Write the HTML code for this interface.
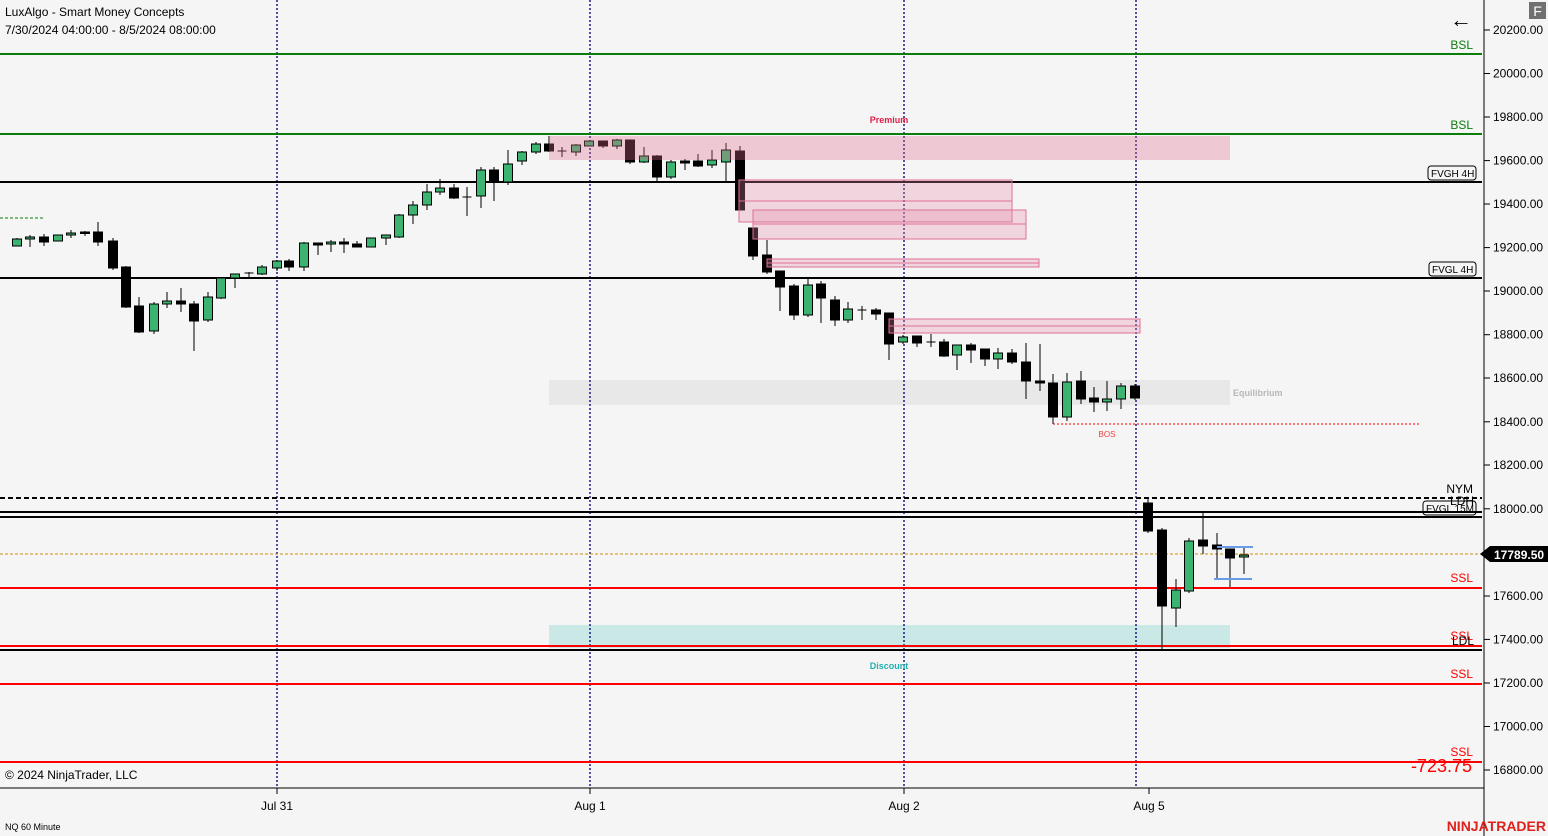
<!DOCTYPE html>
<html><head><meta charset="utf-8"><style>
html,body{margin:0;padding:0;background:#f5f5f5;}
svg{display:block;font-family:"Liberation Sans",sans-serif;}
</style></head><body>
<svg width="1548" height="836" viewBox="0 0 1548 836" xmlns="http://www.w3.org/2000/svg">
<rect width="1548" height="836" fill="#f5f5f5"/>
<!-- zones -->
<rect x="549" y="380" width="681" height="25" fill="#e8e8e8"/>
<rect x="549" y="625" width="681" height="23" fill="#c9e8e6"/>
<!-- vertical dotted lines -->
<g stroke="#1a1a80" stroke-width="1.5" stroke-dasharray="2,2">
<line x1="277" y1="0" x2="277" y2="788"/><line x1="590" y1="0" x2="590" y2="788"/>
<line x1="904" y1="0" x2="904" y2="788"/><line x1="1136" y1="0" x2="1136" y2="788"/>
</g>
<!-- horizontal levels -->
<g stroke-width="2">
<line x1="0" y1="54" x2="1482" y2="54" stroke="#0a7d0a"/>
<line x1="0" y1="134" x2="1482" y2="134" stroke="#0a7d0a"/>
<line x1="0" y1="182" x2="1482" y2="182" stroke="#000"/>
<line x1="0" y1="278" x2="1482" y2="278" stroke="#000"/>
<line x1="0" y1="498" x2="1482" y2="498" stroke="#000" stroke-dasharray="5,3"/>
<line x1="0" y1="512" x2="1482" y2="512" stroke="#000"/>
<line x1="0" y1="517" x2="1482" y2="517" stroke="#000"/>
<line x1="0" y1="588" x2="1482" y2="588" stroke="#f00"/>
<line x1="0" y1="646" x2="1482" y2="646" stroke="#f00"/>
<line x1="0" y1="650" x2="1482" y2="650" stroke="#000"/>
<line x1="0" y1="684" x2="1482" y2="684" stroke="#f00"/>
<line x1="0" y1="762" x2="1482" y2="762" stroke="#f00"/>
</g>
<line x1="0" y1="218" x2="44" y2="218" stroke="#0a7d0a" stroke-dasharray="3,2"/>
<line x1="0" y1="554" x2="1482" y2="554" stroke="#c8900a" stroke-dasharray="3,2"/>
<line x1="1053" y1="424" x2="1420" y2="424" stroke="#f00" stroke-dasharray="2,2"/>
<!-- candles -->
<g stroke="#000" stroke-width="1">
<line x1="17" y1="238" x2="17" y2="246"/><rect x="12.5" y="239" width="9" height="7" fill="#3cb371"/>
<line x1="30" y1="235" x2="30" y2="247"/><rect x="25.5" y="237" width="9" height="2" fill="#3cb371"/>
<line x1="44" y1="234" x2="44" y2="246"/><rect x="39.5" y="237" width="9" height="5" fill="#000"/>
<line x1="58" y1="235" x2="58" y2="241"/><rect x="53.5" y="235" width="9" height="6" fill="#3cb371"/>
<line x1="71" y1="230" x2="71" y2="238"/><rect x="66.5" y="233" width="9" height="2" fill="#3cb371"/>
<line x1="85" y1="231" x2="85" y2="236"/><rect x="80.5" y="232" width="9" height="1.5" fill="#000"/>
<line x1="98" y1="222" x2="98" y2="246"/><rect x="93.5" y="232" width="9" height="10" fill="#000"/>
<line x1="113" y1="238" x2="113" y2="270"/><rect x="108.5" y="241" width="9" height="27" fill="#000"/>
<line x1="126" y1="266" x2="126" y2="308"/><rect x="121.5" y="267" width="9" height="40" fill="#000"/>
<line x1="139" y1="297" x2="139" y2="333"/><rect x="134.5" y="306" width="9" height="26" fill="#000"/>
<line x1="154" y1="302" x2="154" y2="334"/><rect x="149.5" y="304" width="9" height="27" fill="#3cb371"/>
<line x1="167" y1="292" x2="167" y2="308"/><rect x="162.5" y="301" width="9" height="3" fill="#3cb371"/>
<line x1="181" y1="288" x2="181" y2="312"/><rect x="176.5" y="301" width="9" height="3" fill="#000"/>
<line x1="194" y1="301" x2="194" y2="351"/><rect x="189.5" y="304" width="9" height="17" fill="#000"/>
<line x1="208" y1="292" x2="208" y2="322"/><rect x="203.5" y="297" width="9" height="23" fill="#3cb371"/>
<line x1="221" y1="277" x2="221" y2="299"/><rect x="216.5" y="278" width="9" height="20" fill="#3cb371"/>
<line x1="235" y1="274" x2="235" y2="288"/><rect x="230.5" y="274" width="9" height="4" fill="#3cb371"/>
<line x1="249" y1="272" x2="249" y2="278"/><line x1="244.5" y1="273" x2="253.5" y2="273"/>
<line x1="262" y1="265" x2="262" y2="275"/><rect x="257.5" y="267" width="9" height="7" fill="#3cb371"/>
<line x1="277" y1="260" x2="277" y2="271"/><rect x="272.5" y="261" width="9" height="7" fill="#3cb371"/>
<line x1="289" y1="259" x2="289" y2="271"/><rect x="284.5" y="261" width="9" height="6" fill="#000"/>
<line x1="304" y1="242" x2="304" y2="271"/><rect x="299.5" y="243" width="9" height="24" fill="#3cb371"/>
<line x1="318" y1="243" x2="318" y2="255"/><rect x="313.5" y="243" width="9" height="2" fill="#000"/>
<line x1="331" y1="240" x2="331" y2="252"/><rect x="326.5" y="242" width="9" height="2" fill="#3cb371"/>
<line x1="344" y1="238" x2="344" y2="253"/><rect x="339.5" y="242" width="9" height="2" fill="#000"/>
<line x1="357" y1="241" x2="357" y2="247"/><rect x="352.5" y="244" width="9" height="3" fill="#000"/>
<rect x="366.5" y="238" width="9" height="9" fill="#3cb371"/>
<line x1="386" y1="235" x2="386" y2="245"/><rect x="381.5" y="235" width="9" height="3" fill="#3cb371"/>
<line x1="399" y1="214" x2="399" y2="238"/><rect x="394.5" y="215" width="9" height="22" fill="#3cb371"/>
<line x1="413" y1="201" x2="413" y2="224"/><rect x="408.5" y="205" width="9" height="10" fill="#3cb371"/>
<line x1="427" y1="184" x2="427" y2="210"/><rect x="422.5" y="192" width="9" height="13" fill="#3cb371"/>
<line x1="440" y1="179" x2="440" y2="195"/><rect x="435.5" y="188" width="9" height="4" fill="#3cb371"/>
<line x1="454" y1="184" x2="454" y2="199"/><rect x="449.5" y="188" width="9" height="10" fill="#000"/>
<line x1="467" y1="187" x2="467" y2="216"/><line x1="462.5" y1="197" x2="471.5" y2="197"/>
<line x1="481" y1="167" x2="481" y2="208"/><rect x="476.5" y="170" width="9" height="26" fill="#3cb371"/>
<line x1="494" y1="167" x2="494" y2="201"/><rect x="489.5" y="170" width="9" height="12" fill="#000"/>
<line x1="508" y1="150" x2="508" y2="185"/><rect x="503.5" y="164" width="9" height="18" fill="#3cb371"/>
<line x1="522" y1="151" x2="522" y2="165"/><rect x="517.5" y="152" width="9" height="9" fill="#3cb371"/>
<line x1="536" y1="142" x2="536" y2="154"/><rect x="531.5" y="144" width="9" height="8" fill="#3cb371"/>
<line x1="549" y1="136" x2="549" y2="152"/><rect x="544.5" y="144" width="9" height="7" fill="#000"/>
<line x1="562" y1="147" x2="562" y2="157"/><line x1="557.5" y1="151" x2="566.5" y2="151"/>
<line x1="576" y1="144" x2="576" y2="156"/><rect x="571.5" y="145" width="9" height="7" fill="#3cb371"/>
<rect x="584.5" y="141" width="9" height="5" fill="#3cb371"/>
<line x1="603" y1="141" x2="603" y2="148"/><rect x="598.5" y="141" width="9" height="5" fill="#000"/>
<line x1="617" y1="139" x2="617" y2="149"/><rect x="612.5" y="140" width="9" height="6" fill="#3cb371"/>
<line x1="630" y1="140" x2="630" y2="164"/><rect x="625.5" y="140" width="9" height="22" fill="#000"/>
<line x1="644" y1="147" x2="644" y2="163"/><rect x="639.5" y="156" width="9" height="6" fill="#3cb371"/>
<line x1="657" y1="155" x2="657" y2="181"/><rect x="652.5" y="156" width="9" height="21" fill="#000"/>
<line x1="671" y1="160" x2="671" y2="179"/><rect x="666.5" y="162" width="9" height="15" fill="#3cb371"/>
<line x1="685" y1="159" x2="685" y2="170"/><rect x="680.5" y="161" width="9" height="2" fill="#000"/>
<line x1="698" y1="154" x2="698" y2="167"/><rect x="693.5" y="161" width="9" height="5" fill="#000"/>
<line x1="712" y1="150" x2="712" y2="168"/><rect x="707.5" y="160" width="9" height="5" fill="#3cb371"/>
<line x1="726" y1="143" x2="726" y2="182"/><rect x="721.5" y="150" width="9" height="12" fill="#3cb371"/>
<line x1="740" y1="146" x2="740" y2="210"/><rect x="735.5" y="151" width="9" height="59" fill="#000"/>
<line x1="753" y1="228" x2="753" y2="260"/><rect x="748.5" y="228" width="9" height="28" fill="#000"/>
<line x1="767" y1="240" x2="767" y2="274"/><rect x="762.5" y="255" width="9" height="17" fill="#000"/>
<line x1="780" y1="271" x2="780" y2="311"/><rect x="775.5" y="271" width="9" height="16" fill="#000"/>
<line x1="794" y1="284" x2="794" y2="320"/><rect x="789.5" y="286" width="9" height="29" fill="#000"/>
<line x1="808" y1="279" x2="808" y2="317"/><rect x="803.5" y="285" width="9" height="30" fill="#3cb371"/>
<line x1="821" y1="281" x2="821" y2="323"/><rect x="816.5" y="284" width="9" height="14" fill="#000"/>
<line x1="835" y1="296" x2="835" y2="326"/><rect x="830.5" y="300" width="9" height="20" fill="#000"/>
<line x1="848" y1="302" x2="848" y2="323"/><rect x="843.5" y="309" width="9" height="11" fill="#3cb371"/>
<line x1="862" y1="306" x2="862" y2="320"/><line x1="857.5" y1="310" x2="866.5" y2="310"/>
<line x1="876" y1="308" x2="876" y2="320"/><rect x="871.5" y="310" width="9" height="4" fill="#000"/>
<line x1="889" y1="313" x2="889" y2="360"/><rect x="884.5" y="313" width="9" height="31" fill="#000"/>
<line x1="903" y1="335" x2="903" y2="344"/><rect x="898.5" y="337" width="9" height="5" fill="#3cb371"/>
<line x1="917" y1="336" x2="917" y2="347"/><rect x="912.5" y="336" width="9" height="7" fill="#000"/>
<line x1="931" y1="334" x2="931" y2="347"/><line x1="926.5" y1="342" x2="935.5" y2="342"/>
<line x1="944" y1="339" x2="944" y2="357"/><rect x="939.5" y="342" width="9" height="14" fill="#000"/>
<line x1="957" y1="345" x2="957" y2="370"/><rect x="952.5" y="345" width="9" height="10" fill="#3cb371"/>
<line x1="971" y1="343" x2="971" y2="363"/><rect x="966.5" y="345" width="9" height="5" fill="#000"/>
<line x1="985" y1="349" x2="985" y2="366"/><rect x="980.5" y="349" width="9" height="10" fill="#000"/>
<line x1="998" y1="348" x2="998" y2="369"/><rect x="993.5" y="353" width="9" height="6" fill="#3cb371"/>
<line x1="1012" y1="349" x2="1012" y2="364"/><rect x="1007.5" y="353" width="9" height="9" fill="#000"/>
<line x1="1026" y1="343" x2="1026" y2="399"/><rect x="1021.5" y="362" width="9" height="19" fill="#000"/>
<line x1="1040" y1="344" x2="1040" y2="391"/><rect x="1035.5" y="381" width="9" height="2" fill="#000"/>
<line x1="1053" y1="374" x2="1053" y2="424"/><rect x="1048.5" y="383" width="9" height="34" fill="#000"/>
<line x1="1067" y1="373" x2="1067" y2="421"/><rect x="1062.5" y="382" width="9" height="35" fill="#3cb371"/>
<line x1="1081" y1="371" x2="1081" y2="404"/><rect x="1076.5" y="381" width="9" height="18" fill="#000"/>
<line x1="1094" y1="387" x2="1094" y2="412"/><rect x="1089.5" y="398" width="9" height="4" fill="#000"/>
<line x1="1107" y1="381" x2="1107" y2="411"/><rect x="1102.5" y="399" width="9" height="3" fill="#3cb371"/>
<line x1="1121" y1="383" x2="1121" y2="409"/><rect x="1116.5" y="386" width="9" height="13" fill="#3cb371"/>
<line x1="1135" y1="384" x2="1135" y2="400"/><rect x="1130.5" y="386" width="9" height="12" fill="#000"/>
<line x1="1148" y1="499" x2="1148" y2="533"/><rect x="1143.5" y="503" width="9" height="28" fill="#000"/>
<line x1="1162" y1="528" x2="1162" y2="650"/><rect x="1157.5" y="530" width="9" height="76" fill="#000"/>
<line x1="1176" y1="579" x2="1176" y2="627"/><rect x="1171.5" y="590" width="9" height="18" fill="#3cb371"/>
<line x1="1189" y1="538" x2="1189" y2="593"/><rect x="1184.5" y="541" width="9" height="50" fill="#3cb371"/>
<line x1="1203" y1="512" x2="1203" y2="554"/><rect x="1198.5" y="540" width="9" height="6" fill="#000"/>
<line x1="1217" y1="533" x2="1217" y2="580"/><rect x="1212.5" y="545" width="9" height="4" fill="#000"/>
<line x1="1230" y1="549" x2="1230" y2="587"/><rect x="1225.5" y="549" width="9" height="9" fill="#000"/>
<line x1="1244" y1="548" x2="1244" y2="574"/><rect x="1239.5" y="555" width="9" height="2" fill="#3cb371"/>
</g>
<line x1="1217" y1="547" x2="1253" y2="547" stroke="#6a9ae8" stroke-width="2"/>
<line x1="1214" y1="579" x2="1252" y2="579" stroke="#6a9ae8" stroke-width="2"/>
<!-- premium & fvg zones -->
<rect x="549" y="136" width="681" height="24" fill="rgb(225,110,140)" fill-opacity="0.32"/>
<g fill="rgb(230,140,170)" fill-opacity="0.3" stroke="#e07095" stroke-width="1">
<rect x="739" y="180" width="273" height="42"/><line x1="739" y1="201" x2="1012" y2="201"/>
<rect x="753" y="210" width="273" height="29"/><line x1="753" y1="224" x2="1026" y2="224"/>
<rect x="767" y="259" width="272" height="8"/><line x1="767" y1="263" x2="1039" y2="263"/>
<rect x="889" y="319" width="251" height="14"/><line x1="889" y1="326" x2="1140" y2="326"/>
</g>
<!-- axes -->
<line x1="1484" y1="0" x2="1484" y2="836" stroke="#000"/>
<line x1="0" y1="788" x2="1484" y2="788" stroke="#000"/>
<g stroke="#000">
<line x1="1484" y1="30" x2="1490" y2="30"/><line x1="1484" y1="73.5" x2="1490" y2="73.5"/><line x1="1484" y1="117" x2="1490" y2="117"/><line x1="1484" y1="160.6" x2="1490" y2="160.6"/><line x1="1484" y1="204" x2="1490" y2="204"/><line x1="1484" y1="247.6" x2="1490" y2="247.6"/><line x1="1484" y1="291" x2="1490" y2="291"/><line x1="1484" y1="334.7" x2="1490" y2="334.7"/><line x1="1484" y1="378" x2="1490" y2="378"/><line x1="1484" y1="421.8" x2="1490" y2="421.8"/><line x1="1484" y1="465" x2="1490" y2="465"/><line x1="1484" y1="508.8" x2="1490" y2="508.8"/><line x1="1484" y1="596" x2="1490" y2="596"/><line x1="1484" y1="639.4" x2="1490" y2="639.4"/><line x1="1484" y1="683" x2="1490" y2="683"/><line x1="1484" y1="726.5" x2="1490" y2="726.5"/><line x1="1484" y1="770" x2="1490" y2="770"/>
<line x1="277" y1="788" x2="277" y2="794"/><line x1="590" y1="788" x2="590" y2="794"/><line x1="904" y1="788" x2="904" y2="794"/><line x1="1149" y1="788" x2="1149" y2="794"/>
</g>
<g font-size="12" fill="#000">
<text x="1493" y="34">20200.00</text><text x="1493" y="77.5">20000.00</text><text x="1493" y="121">19800.00</text><text x="1493" y="164.6">19600.00</text><text x="1493" y="208">19400.00</text><text x="1493" y="251.6">19200.00</text><text x="1493" y="295">19000.00</text><text x="1493" y="338.7">18800.00</text><text x="1493" y="382">18600.00</text><text x="1493" y="425.8">18400.00</text><text x="1493" y="469">18200.00</text><text x="1493" y="512.8">18000.00</text><text x="1493" y="600">17600.00</text><text x="1493" y="643.4">17400.00</text><text x="1493" y="687">17200.00</text><text x="1493" y="730.5">17000.00</text><text x="1493" y="774">16800.00</text>
<text x="277" y="810" text-anchor="middle">Jul 31</text><text x="590" y="810" text-anchor="middle">Aug 1</text><text x="904" y="810" text-anchor="middle">Aug 2</text><text x="1149" y="810" text-anchor="middle">Aug 5</text>
<text x="5" y="16">LuxAlgo - Smart Money Concepts</text>
<text x="5" y="34">7/30/2024 04:00:00 - 8/5/2024 08:00:00</text>
<text x="5" y="779">© 2024 NinjaTrader, LLC</text>
</g>
<text x="5" y="830" font-size="9">NQ 60 Minute</text>
<text x="1546" y="831" font-size="14" font-weight="bold" fill="#e0201a" text-anchor="end">NINJATRADER</text>
<!-- price tag -->
<polygon points="1480,554 1490,546 1548,546 1548,562 1490,562" fill="#000"/>
<text x="1494" y="559" font-size="12" font-weight="bold" fill="#fff">17789.50</text>
<!-- labels -->
<g font-size="12" text-anchor="end">
<text x="1473" y="49" fill="#0a7d0a">BSL</text>
<text x="1473" y="129" fill="#0a7d0a">BSL</text>
<text x="1473" y="493" fill="#000">NYM</text>
<text x="1474" y="505" fill="#000">LDH</text>
<text x="1473" y="582" fill="#f00">SSL</text>
<text x="1473" y="640" fill="#f00">SSL</text>
<text x="1474" y="645" fill="#000">LDL</text>
<text x="1473" y="678" fill="#f00">SSL</text>
<text x="1473" y="756" fill="#f00">SSL</text>
</g>
<text x="1472" y="772" font-size="18" fill="#f00" text-anchor="end">-723.75</text>
<g font-size="10" fill="#000">
<rect x="1428" y="166" width="48" height="14" rx="3" fill="#f5f5f5" stroke="#000"/><text x="1431" y="177">FVGH 4H</text>
<rect x="1429" y="262" width="47" height="14" rx="3" fill="#f5f5f5" stroke="#000"/><text x="1432" y="273">FVGL 4H</text>
<rect x="1423" y="501" width="53" height="14" rx="3" fill="none" stroke="#000"/><text x="1426" y="512">FVGL 15M</text>
</g>
<text x="889" y="123" font-size="9" font-weight="bold" fill="#e0204a" text-anchor="middle">Premium</text>
<text x="1233" y="396" font-size="9" font-weight="bold" fill="#b8b8b8">Equilibrium</text>
<text x="1107" y="437" font-size="8" fill="#f04040" text-anchor="middle">BOS</text>
<text x="889" y="669" font-size="9" font-weight="bold" fill="#20b0b0" text-anchor="middle">Discount</text>
<text x="1461" y="27" font-size="22" fill="#000" text-anchor="middle">←</text>
<rect x="1529" y="2" width="17" height="17" fill="#707070"/>
<text x="1537.5" y="16" font-size="14" fill="#fff" text-anchor="middle">F</text>
</svg>
</body></html>
